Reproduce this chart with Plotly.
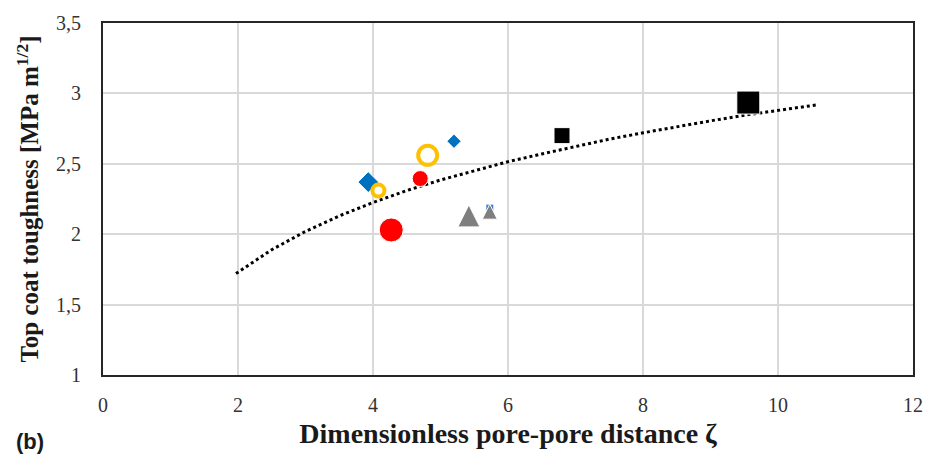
import plotly.graph_objects as go

# ---- data ----
blue_x = [3.93, 5.20]
blue_y = [2.37, 2.66]
blue_size = [16, 11]

blue_hidden_x = [5.73]
blue_hidden_y = [2.185]

yellow_x = [4.08, 4.81]
yellow_y = [2.31, 2.56]
yellow_size = [12, 19]

red_x = [4.70, 4.27]
red_y = [2.395, 2.03]
red_size = [16, 24]

gray_x = [5.42, 5.73]
gray_y = [2.13, 2.16]
gray_size = [22, 15]

black_x = [6.80, 9.56]
black_y = [2.70, 2.935]
black_size = [16, 23]

trend_x = [1.97, 2.5, 3.0, 3.5, 4.0, 4.5, 5.0, 5.5, 6.0, 6.5, 7.0, 7.5, 8.0, 8.5, 9.0, 9.5, 10.0, 10.6]
trend_y = [1.72, 1.89, 2.02, 2.13, 2.225, 2.31, 2.385, 2.45, 2.515, 2.57, 2.625, 2.675, 2.72, 2.765, 2.805, 2.845, 2.88, 2.92]

x_ticks = [0, 2, 4, 6, 8, 10, 12]
x_ticktext = ["0", "2", "4", "6", "8", "10", "12"]
y_ticks = [1, 1.5, 2, 2.5, 3, 3.5]
y_ticktext = ["1", "1,5", "2", "2,5", "3", "3,5"]

fig = go.Figure()

fig.add_trace(go.Scatter(x=trend_x, y=trend_y, mode="lines",
                         line=dict(color="black", width=3, dash="dot"),
                         hoverinfo="skip"))
fig.add_trace(go.Scatter(x=blue_hidden_x, y=blue_hidden_y, mode="markers",
                         marker=dict(symbol="square", size=7, color="#3b7fd0", opacity=1)))
fig.add_trace(go.Scatter(x=blue_x, y=blue_y, mode="markers",
                         marker=dict(symbol="diamond", size=blue_size, color="#0070c0", opacity=1)))
fig.add_trace(go.Scatter(x=yellow_x, y=yellow_y, mode="markers",
                         marker=dict(symbol="circle-open", size=yellow_size, color="#ffc000",
                                     opacity=1, line=dict(width=4, color="#ffc000"))))
fig.add_trace(go.Scatter(x=red_x, y=red_y, mode="markers",
                         marker=dict(symbol="circle", size=red_size, color="#ff0000", opacity=1)))
fig.add_trace(go.Scatter(x=gray_x, y=gray_y, mode="markers",
                         marker=dict(symbol="arrow-down", angle=180, size=gray_size, color="#7f7f7f",
                                     opacity=1, standoff=[s / 2 for s in gray_size])))
fig.add_trace(go.Scatter(x=black_x, y=black_y, mode="markers",
                         marker=dict(symbol="square", size=black_size, color="black", opacity=1)))

serif = "Liberation Serif, Times New Roman, serif"

fig.update_layout(
    width=936, height=456,
    margin=dict(l=103, r=23, t=21, b=75),
    paper_bgcolor="white", plot_bgcolor="white",
    showlegend=False,
    font=dict(family=serif, size=20, color="#333333"),
    xaxis=dict(range=[0, 12], tickvals=x_ticks, ticktext=x_ticktext,
               showgrid=True, gridcolor="#d9d9d9", gridwidth=2,
               zeroline=False, showline=True, linecolor="#262626", linewidth=2,
               mirror=True, ticks="", ticklabelstandoff=11,
               tickfont=dict(family=serif, size=20, color="#333333"),
               title=dict(text="<b>Dimensionless pore-pore distance ζ</b>",
                          font=dict(family=serif, size=28, color="#1a1a1a"),
                          standoff=8)),
    yaxis=dict(range=[1, 3.5], tickvals=y_ticks, ticktext=y_ticktext,
               showgrid=True, gridcolor="#d9d9d9", gridwidth=2,
               zeroline=False, showline=True, linecolor="#262626", linewidth=2,
               mirror=True, ticks="", ticklabelstandoff=16,
               tickfont=dict(family=serif, size=20, color="#333333"),
               title=dict(text="<b>Top coat toughness [MPa m<sup>1/2</sup>]</b>",
                          font=dict(family=serif, size=25, color="#1a1a1a"),
                          standoff=10)),
    annotations=[dict(text="<b>(b)</b>", xref="paper", yref="paper",
                      x=-0.11, y=-0.19, xanchor="left", yanchor="middle",
                      showarrow=False,
                      font=dict(family="Liberation Sans, Arial, sans-serif", size=22, color="#1a1a1a"))],
)

fig.write_html("out.html")
